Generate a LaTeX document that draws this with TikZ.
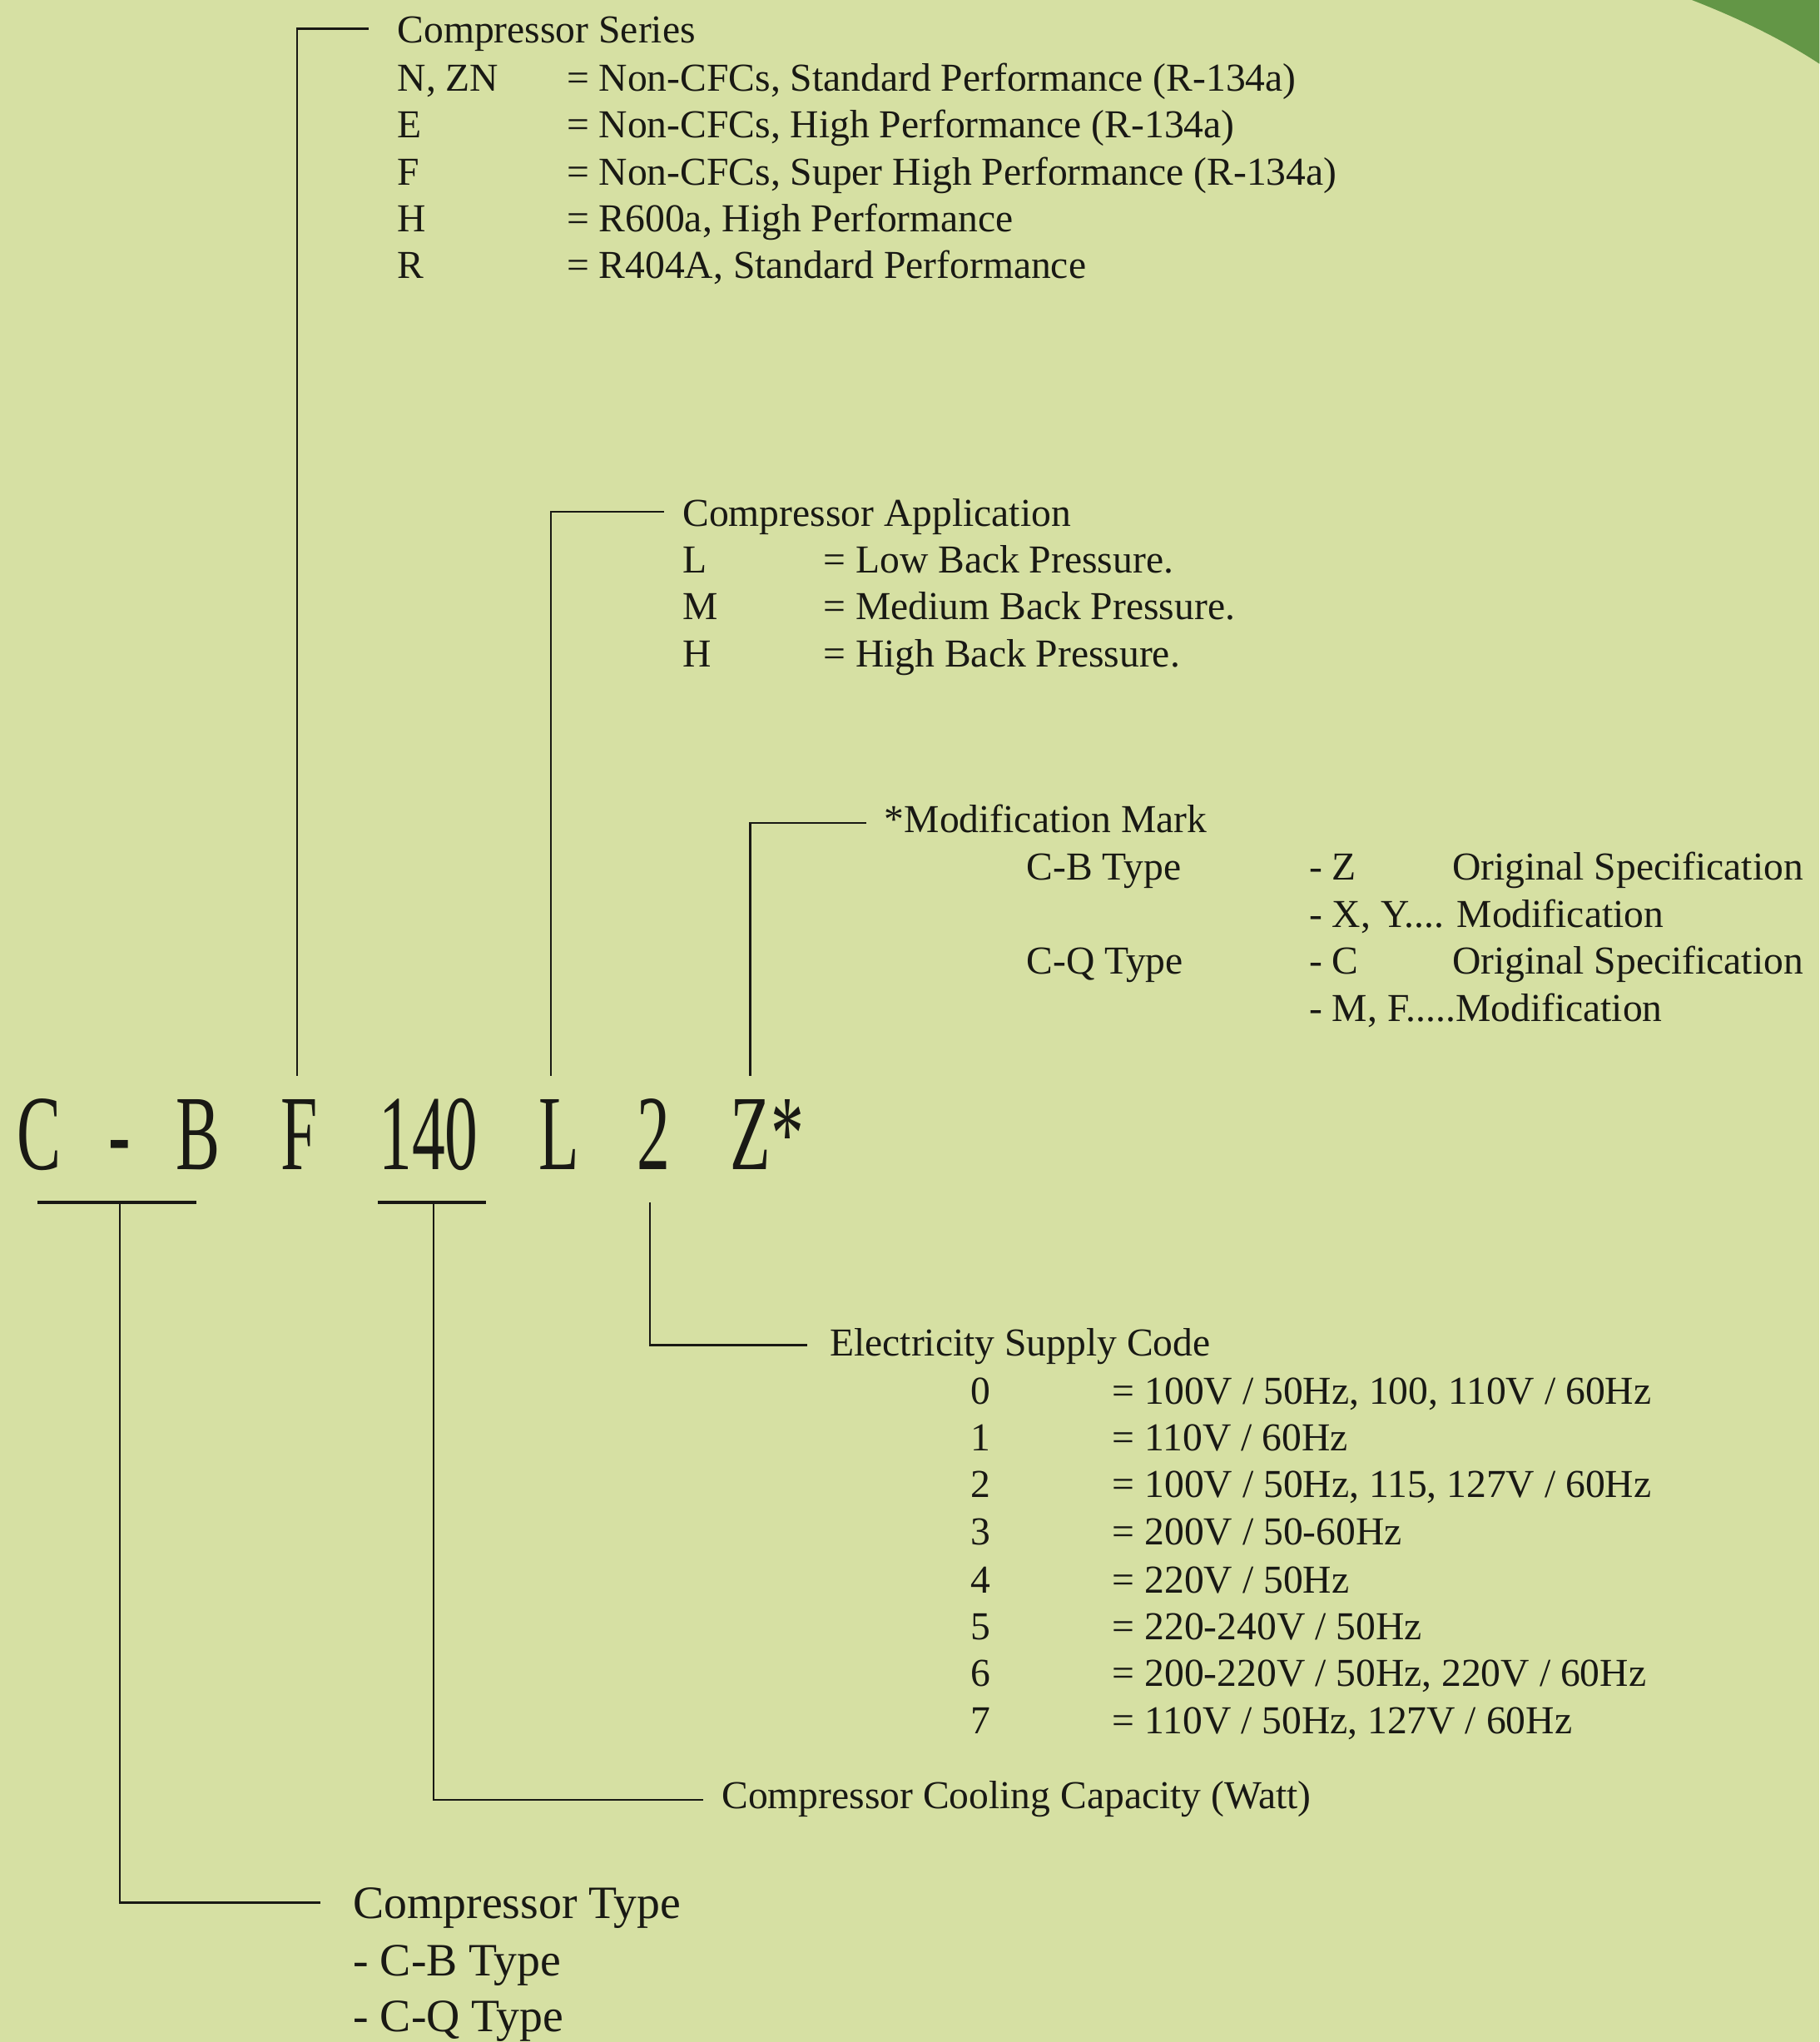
\documentclass[tikz,border=0pt]{standalone}
\usepackage{fontspec}
\setmainfont{Liberation Serif}
\definecolor{bgc}{RGB}{214,224,163}
\definecolor{cornerc}{RGB}{99,150,70}
\definecolor{inkc}{RGB}{25,25,20}
\begin{document}
\begin{tikzpicture}[x=1pt,y=-1pt,
  txt/.style={anchor=base west,inner sep=0pt,text=inkc,font=\fontsize{30.4}{36}\selectfont},
  bigtxt/.style={anchor=base west,inner sep=0pt,text=inkc,font=\fontsize{35.6}{43}\selectfont},
  codechar/.style={anchor=base,inner sep=0pt,text=inkc,font=\fontsize{82}{90}\selectfont},
  conn/.style={draw=inkc,line width=1.7pt},
  uline/.style={draw=inkc,line width=2.6pt}]
\fill[bgc] (0,0) rectangle (1397,1568);
\useasboundingbox (0,0) rectangle (1397,1568);
\fill[cornerc] (1299,0) .. controls (1335,14) and (1368,30) .. (1397,49) -- (1397,0) -- cycle;

% main code
\node[codechar] (cC) at (30,898) {\scalebox{0.62}[1]{C}};
\node[codechar] (cDash) at (92,898) {\scalebox{0.62}[1]{-}};
\node[codechar] (cB) at (152,898) {\scalebox{0.62}[1]{B}};
\node[codechar] (cF) at (230,898) {\scalebox{0.62}[1]{F}};
\node[codechar] (c140) at (329,898) {\scalebox{0.62}[1]{140}};
\node[codechar] (cL) at (429,898) {\scalebox{0.62}[1]{L}};
\node[codechar] (c2) at (502,898) {\scalebox{0.62}[1]{2}};
\node[codechar] (cZ) at (589,898) {\scalebox{0.62}[1]{Z*}};

% connector coordinates
\coordinate (fTop) at (228,826);
\coordinate (lTop) at (423,826);
\coordinate (zTop) at (576,826);
\coordinate (ulA) at (29,923);
\coordinate (ulB) at (151,923);
\coordinate (ulC) at (290,923);
\coordinate (ulD) at (373,923);
\coordinate (typeTop) at (92,923);
\coordinate (capTop) at (333,923);
\coordinate (elecTop) at (499,923);
\coordinate (seriesEnd) at (283,22);
\coordinate (appEnd) at (510,393);
\coordinate (modEnd) at (665,632);
\coordinate (typeEnd) at (246,1461);
\coordinate (capEnd) at (540,1382);
\coordinate (elecEnd) at (620,1033);

\draw[uline] (ulA) -- (ulB);
\draw[uline] (ulC) -- (ulD);
\draw[conn] (fTop) |- (seriesEnd);
\draw[conn] (lTop) |- (appEnd);
\draw[conn] (zTop) |- (modEnd);
\draw[conn] (typeTop) |- (typeEnd);
\draw[conn] (capTop) |- (capEnd);
\draw[conn] (elecTop) |- (elecEnd);

% Compressor Series
\node[txt] (sH) at (305,33) {Compressor Series};
\node[txt] (s1k) at (305,70) {N, ZN};
\node[txt] (s1v) at (435,70) {= Non-CFCs, Standard Performance (R-134a)};
\node[txt] (s2k) at (305,106) {E};
\node[txt] (s2v) at (435,106) {= Non-CFCs, High Performance (R-134a)};
\node[txt] (s3k) at (305,142) {F};
\node[txt] (s3v) at (435,142) {= Non-CFCs, Super High Performance (R-134a)};
\node[txt] (s4k) at (305,178) {H};
\node[txt] (s4v) at (435,178) {= R600a, High Performance};
\node[txt] (s5k) at (305,214) {R};
\node[txt] (s5v) at (435,214) {= R404A, Standard Performance};

% Compressor Application
\node[txt] (aH) at (524,404) {Compressor Application};
\node[txt] (a1k) at (524,440) {L};
\node[txt] (a1v) at (632,440) {= Low Back Pressure.};
\node[txt] (a2k) at (524,476) {M};
\node[txt] (a2v) at (632,476) {= Medium Back Pressure.};
\node[txt] (a3k) at (524,512) {H};
\node[txt] (a3v) at (632,512) {= High Back Pressure.};

% Modification Mark
\node[txt] (mH) at (679,639) {*Modification Mark};
\node[txt] (m1a) at (788,676) {C-B Type};
\node[txt] (m1b) at (1005,676) {- Z};
\node[txt] (m1c) at (1115,676) {Original Specification};
\node[txt] (m2b) at (1005,712) {- X, Y.... Modification};
\node[txt] (m3a) at (788,748) {C-Q Type};
\node[txt] (m3b) at (1005,748) {- C};
\node[txt] (m3c) at (1115,748) {Original Specification};
\node[txt] (m4b) at (1005,784) {- M, F.....Modification};

% Electricity Supply Code
\node[txt] (eH) at (637,1041) {Electricity Supply Code};
\node[txt] (e0k) at (745,1078) {0};
\node[txt] (e0v) at (854,1078) {= 100V / 50Hz, 100, 110V / 60Hz};
\node[txt] (e1k) at (745,1114) {1};
\node[txt] (e1v) at (854,1114) {= 110V / 60Hz};
\node[txt] (e2k) at (745,1150) {2};
\node[txt] (e2v) at (854,1150) {= 100V / 50Hz, 115, 127V / 60Hz};
\node[txt] (e3k) at (745,1186) {3};
\node[txt] (e3v) at (854,1186) {= 200V / 50-60Hz};
\node[txt] (e4k) at (745,1223) {4};
\node[txt] (e4v) at (854,1223) {= 220V / 50Hz};
\node[txt] (e5k) at (745,1259) {5};
\node[txt] (e5v) at (854,1259) {= 220-240V / 50Hz};
\node[txt] (e6k) at (745,1295) {6};
\node[txt] (e6v) at (854,1295) {= 200-220V / 50Hz, 220V / 60Hz};
\node[txt] (e7k) at (745,1331) {7};
\node[txt] (e7v) at (854,1331) {= 110V / 50Hz, 127V / 60Hz};

% Cooling capacity
\node[txt] (cap) at (554,1389) {Compressor Cooling Capacity (Watt)};

% Compressor Type
\node[bigtxt] (tH) at (271,1473) {Compressor Type};
\node[bigtxt] (t1) at (271,1517) {- C-B Type};
\node[bigtxt] (t2) at (271,1560) {- C-Q Type};
\end{tikzpicture}
\end{document}
